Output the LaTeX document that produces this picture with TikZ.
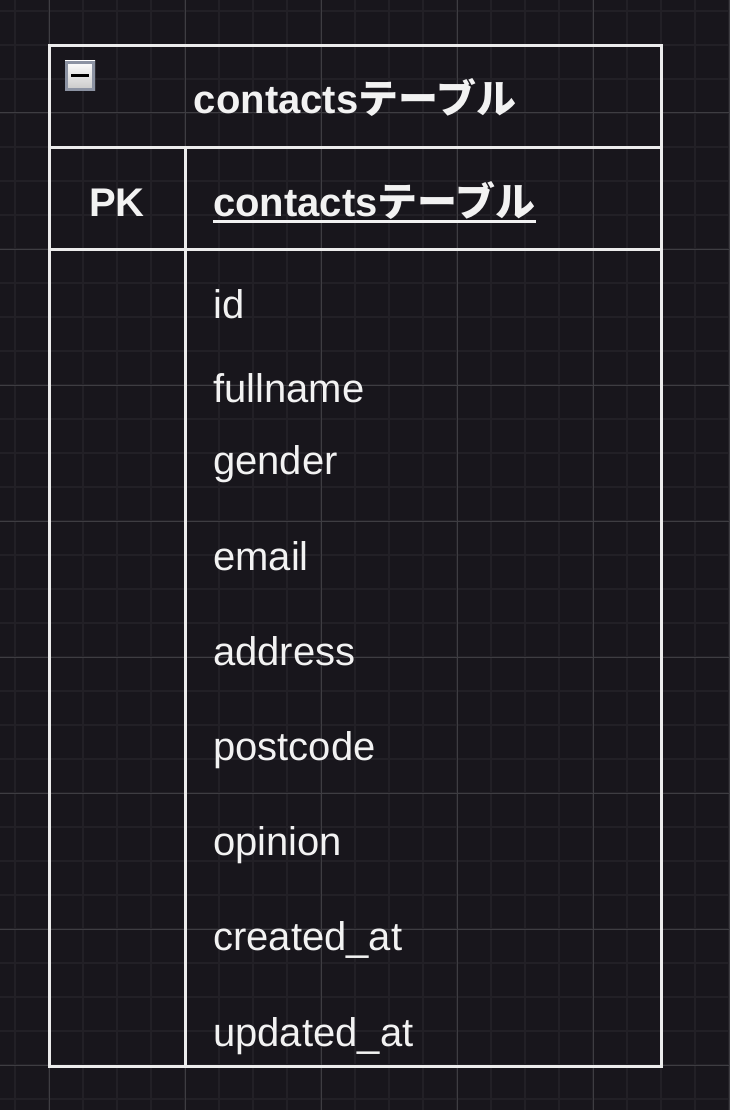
\documentclass[tikz,border=0pt]{standalone}
\usepackage{fontspec}
\setmainfont{Liberation Sans}
\newfontfamily\jp{Noto Sans CJK JP}
\usetikzlibrary{calc}
\definecolor{bgc}{RGB}{24,22,28}
\definecolor{minorc}{RGB}{34,32,38}
\definecolor{majorc}{RGB}{62,61,66}
\definecolor{linec}{RGB}{236,236,236}
\definecolor{txtc}{RGB}{242,242,242}
\definecolor{iconb}{RGB}{140,147,163}
\tikzset{
  field/.style={anchor=base west,inner sep=0pt,text=txtc,font=\fontsize{40}{48}\selectfont},
  boldtxt/.style={anchor=base,inner sep=0pt,text=txtc,font=\fontsize{40}{48}\selectfont\bfseries},
  tline/.style={draw=linec,line width=3pt},
  minorline/.style={draw=minorc,line width=1.6pt},
  majorline/.style={draw=majorc,line width=1pt}
}
\begin{document}
\begin{tikzpicture}[x=1pt,y=-1pt]
\useasboundingbox (0,0) rectangle (730,1110);
\fill[bgc] (0,0) rectangle (730,1110);
% grid
\foreach \k in {0,...,21} \draw[minorline] ({15+34*\k},0) -- ({15+34*\k},1110);
\foreach \k in {0,...,32} \draw[minorline] (0,{11+34*\k}) -- (730,{11+34*\k});
\foreach \k in {0,...,5} \draw[majorline] ({49+136*\k},0) -- ({49+136*\k},1110);
\foreach \k in {0,...,7} \draw[majorline] (0,{113+136*\k}) -- (730,{113+136*\k});
% table frame
\draw[tline] (49,46) rectangle (661,1066);
\draw[tline] (49,148) -- (661,148);
\draw[tline] (49,249) -- (661,249);
\draw[tline] (185,148) -- (185,1066);
% collapse icon
\shade[top color=white,bottom color=black!22] (65,61) rectangle (95,91);
\draw[iconb,line width=2.6pt] (66.3,62.3) rectangle (93.7,89.7);
\draw[black,line width=3pt] (71,76) -- (89,76);
% texts
\node[boldtxt] (title) at (355,114) {contacts{\jp\bfseries テーブル}};
\node[boldtxt] (pk) at (117,216) {PK};
\node[boldtxt,anchor=base west] (hdr) at (213,216) {contacts{\jp\bfseries テーブル}};
\draw[draw=txtc,line width=3pt] ($(hdr.base west)+(0,5)$) -- ($(hdr.base east)+(0,5)$);
\node[field] (f1) at (213,318) {id};
\node[field] (f2) at (213,402) {fullname};
\node[field] (f3) at (213,474) {gender};
\node[field] (f4) at (213,570) {email};
\node[field] (f5) at (213,665) {address};
\node[field] (f6) at (213,760) {postcode};
\node[field] (f7) at (213,855) {opinion};
\node[field] (f8) at (213,950) {created\_at};
\node[field] (f9) at (213,1046) {updated\_at};
\end{tikzpicture}
\end{document}
